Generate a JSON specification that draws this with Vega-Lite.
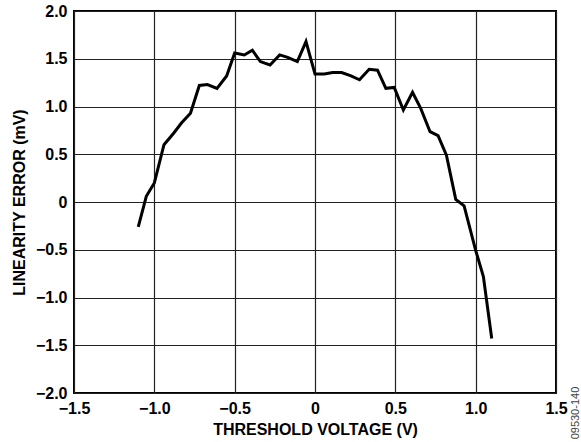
{
  "$schema": "https://vega.github.io/schema/vega-lite/v6.json",
  "width": 482,
  "height": 382,
  "autosize": {"type": "none"},
  "padding": {"left": 74, "top": 11, "right": 25, "bottom": 49},
  "background": "white",
  "config": {
    "view": {"stroke": "black", "strokeWidth": 2},
    "font": "Liberation Sans",
    "axis": {
      "grid": true,
      "gridColor": "#222222",
      "gridWidth": 1.2,
      "gridOpacity": 1,
      "ticks": false,
      "domain": false,
      "labelFont": "Liberation Sans",
      "labelFontWeight": "bold",
      "labelFontSize": 16,
      "labelColor": "black",
      "labelFlush": false,
      "labelOverlap": false,
      "labelBound": false,
      "titleFont": "Liberation Sans",
      "titleFontWeight": "bold",
      "titleFontSize": 16,
      "titleColor": "black"
    }
  },
  "datasets": {
    "curve": [
      {"v": -1.10, "e": -0.26},
      {"v": -1.05, "e": 0.06},
      {"v": -1.00, "e": 0.20},
      {"v": -0.94, "e": 0.60},
      {"v": -0.88, "e": 0.72},
      {"v": -0.83, "e": 0.83},
      {"v": -0.775, "e": 0.93},
      {"v": -0.72, "e": 1.22},
      {"v": -0.67, "e": 1.23},
      {"v": -0.61, "e": 1.19},
      {"v": -0.55, "e": 1.32},
      {"v": -0.50, "e": 1.56},
      {"v": -0.44, "e": 1.54},
      {"v": -0.39, "e": 1.59},
      {"v": -0.34, "e": 1.47},
      {"v": -0.28, "e": 1.435},
      {"v": -0.22, "e": 1.54},
      {"v": -0.17, "e": 1.515},
      {"v": -0.11, "e": 1.47},
      {"v": -0.056, "e": 1.68},
      {"v": 0.0, "e": 1.34},
      {"v": 0.058, "e": 1.34},
      {"v": 0.11, "e": 1.355},
      {"v": 0.166, "e": 1.355},
      {"v": 0.224, "e": 1.32},
      {"v": 0.277, "e": 1.28},
      {"v": 0.337, "e": 1.39},
      {"v": 0.389, "e": 1.38},
      {"v": 0.441, "e": 1.19},
      {"v": 0.493, "e": 1.20},
      {"v": 0.55, "e": 0.963},
      {"v": 0.607, "e": 1.148},
      {"v": 0.658, "e": 0.98},
      {"v": 0.716, "e": 0.736},
      {"v": 0.766, "e": 0.695},
      {"v": 0.818, "e": 0.49},
      {"v": 0.876, "e": 0.028},
      {"v": 0.928, "e": -0.04},
      {"v": 1.00, "e": -0.506},
      {"v": 1.048, "e": -0.78},
      {"v": 1.10, "e": -1.43}
    ],
    "note": [
      {"v": 1.624, "e": -2.21, "label": "09530-140"}
    ]
  },
  "layer": [
    {
      "data": {"name": "curve"},
      "mark": {"type": "line", "color": "black", "strokeWidth": 3, "strokeJoin": "miter"},
      "encoding": {
        "x": {
          "field": "v", "type": "quantitative",
          "scale": {"domain": [-1.5, 1.5], "nice": false, "zero": false},
          "axis": {
            "values": [-1.5, -1, -0.5, 0, 0.5, 1, 1.5],
            "labelExpr": "datum.value == 0 ? '0' : replace(format(datum.value, '.1f'), '-', '–')",
            "labelPadding": 7,
            "title": "THRESHOLD VOLTAGE (V)",
            "titlePadding": 5
          }
        },
        "y": {
          "field": "e", "type": "quantitative",
          "scale": {"domain": [-2, 2], "nice": false, "zero": false},
          "axis": {
            "values": [-2, -1.5, -1, -0.5, 0, 0.5, 1, 1.5, 2],
            "labelExpr": "datum.value == 0 ? '0' : replace(format(datum.value, '.1f'), '-', '–')",
            "labelPadding": 7,
            "title": "LINEARITY ERROR (mV)",
            "titlePadding": 8
          }
        }
      }
    },
    {
      "data": {"name": "note"},
      "mark": {"type": "text", "angle": 270, "align": "center", "baseline": "middle", "fontSize": 11, "color": "#444444", "font": "Liberation Sans", "clip": false},
      "encoding": {
        "x": {"field": "v", "type": "quantitative"},
        "y": {"field": "e", "type": "quantitative"},
        "text": {"field": "label"}
      }
    }
  ]
}
